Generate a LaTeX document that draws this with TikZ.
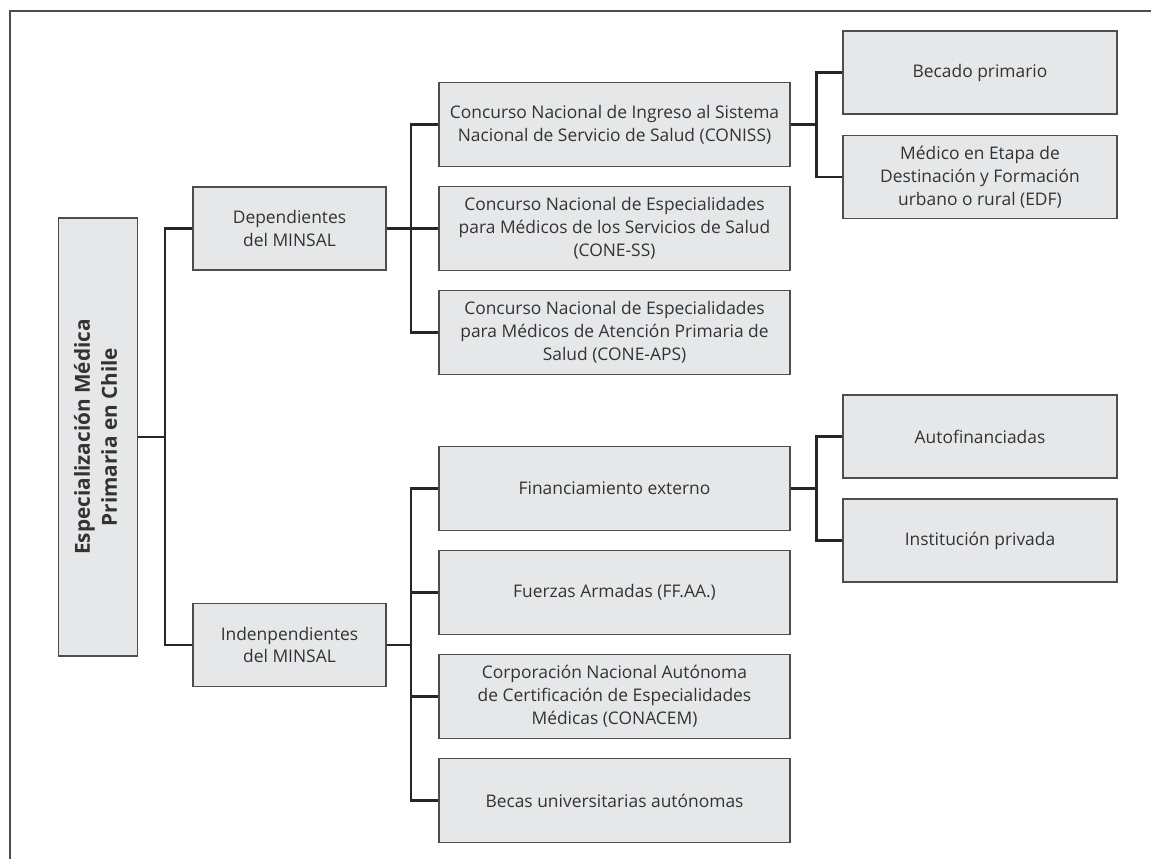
\documentclass[tikz,border=0pt]{standalone}
\usepackage{fontspec}
\setmainfont{Open Sans}
\usepackage{tikz}
\definecolor{boxgray}{HTML}{E6E7E8}
\definecolor{linegray}{HTML}{4D4D4D}
\definecolor{textgray}{HTML}{333333}
\tikzstyle{block}=[rectangle,draw=linegray,line width=0.7pt,fill=boxgray,text=textgray,align=center,inner sep=0pt,font=\fontsize{9.9}{13}\selectfont]
\tikzstyle{lvlone}=[block,minimum width=3.86cm,minimum height=1.66cm]
\tikzstyle{lvltwo}=[block,minimum width=7.02cm,minimum height=1.68cm]
\tikzstyle{lvlthree}=[block,minimum width=5.48cm,minimum height=1.66cm]
\tikzstyle{link}=[line width=1.4pt,color=black!85]

\begin{document}
\begin{tikzpicture}
\useasboundingbox (0, 0) rectangle (23.02, 17.18);
\draw[linegray, line width=0.9pt] (0.2, 0) -- (0.2, 16.96) -- (23.02, 16.96);
% root
\node[block, minimum width=1.58cm, minimum height=8.76cm] at (1.96, 8.44) (root) {\rotatebox{90}{\fontsize{11.8}{15.3}\selectfont\bfseries\begin{tabular}{@{}c@{}}Especialización Médica\\Primaria en Chile\end{tabular}}};
% first level
\node[lvlone] at (5.79, 12.61) (dep) {Dependientes\\del MINSAL};
\node[lvlone] at (5.79, 4.28) (indep) {Indenpendientes\\del MINSAL};
% second level
\node[lvltwo] at (12.29, 14.69) (coniss) {Concurso Nacional de Ingreso al Sistema\\Nacional de Servicio de Salud (CONISS)};
\node[lvltwo] at (12.29, 12.61) (coness) {Concurso Nacional de Especialidades\\para Médicos de los Servicios de Salud\\(CONE-SS)};
\node[lvltwo] at (12.29, 10.53) (coneaps) {Concurso Nacional de Especialidades\\para Médicos de Atención Primaria de\\Salud (CONE-APS)};
\node[lvltwo] at (12.29, 7.41) (finext) {Financiamiento externo};
\node[lvltwo] at (12.29, 5.33) (ffaa) {Fuerzas Armadas (FF.AA.)};
\node[lvltwo] at (12.29, 3.25) (conacem) {Corporación Nacional Autónoma\\de Certificación de Especialidades\\Médicas (CONACEM)};
\node[lvltwo] at (12.29, 1.17) (becas) {Becas universitarias autónomas};
% third level
\node[lvlthree] at (19.6, 15.73) (becado) {Becado primario};
\node[lvlthree] at (19.6, 13.64) (edf) {Médico en Etapa de\\Destinación y Formación\\urbano o rural (EDF)};
\node[lvlthree] at (19.6, 8.45) (autofin) {Autofinanciadas};
\node[lvlthree] at (19.6, 6.37) (privada) {Institución privada};
% branch points
\coordinate (sroot) at (3.3, 8.44);
\coordinate (sdep) at (8.22, 12.61);
\coordinate (sindep) at (8.22, 4.28);
\coordinate (sconiss) at (16.33, 14.69);
\coordinate (sfinext) at (16.33, 7.41);
\draw[link] (root.east) -- (sroot);
\draw[link] (sroot) |- (dep.west);
\draw[link] (sroot) |- (indep.west);
\draw[link] (dep.east) -- (sdep);
\draw[link] (sdep) |- (coniss.west);
\draw[link] (sdep) |- (coness.west);
\draw[link] (sdep) |- (coneaps.west);
\draw[link] (indep.east) -- (sindep);
\draw[link] (sindep) |- (finext.west);
\draw[link] (sindep) |- (ffaa.west);
\draw[link] (sindep) |- (conacem.west);
\draw[link] (sindep) |- (becas.west);
\draw[link] (coniss.east) -- (sconiss);
\draw[link] (sconiss) |- (becado.west);
\draw[link] (sconiss) |- (edf.west);
\draw[link] (finext.east) -- (sfinext);
\draw[link] (sfinext) |- (autofin.west);
\draw[link] (sfinext) |- (privada.west);
\end{tikzpicture}
\end{document}
